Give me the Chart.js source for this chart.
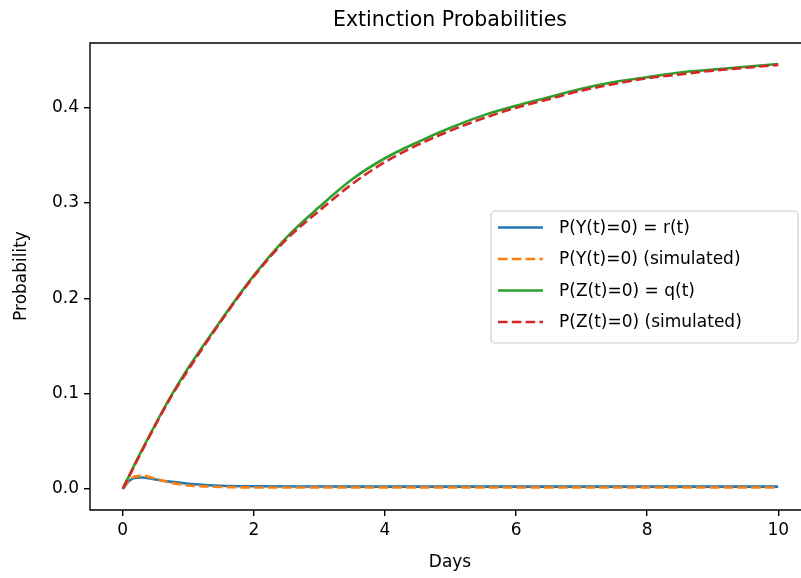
<!DOCTYPE html>
<html>
<head>
<meta charset="utf-8">
<script src="https://cdn.jsdelivr.net/npm/chart.js@4/dist/chart.umd.min.js"></script>
<style>
  html, body { margin: 0; padding: 0; background: #fff; overflow: hidden; }
  #wrap { width: 801px; height: 578px; overflow: hidden; position: relative; }
  #chart { position: absolute; left: 0; top: 0; }
</style>
</head>
<body>
<div id="wrap"><canvas id="chart" width="812" height="578"></canvas></div>
<script>
// ------------------------
// DATA
// ------------------------
const tTheory = [0, 0.25, 0.5, 0.75, 1, 1.5, 2, 2.5, 3, 3.5, 4, 4.5, 5, 5.5, 6, 6.5, 7, 7.5, 8, 8.5, 9, 9.5, 10];
const qTheory = [0, 0.035, 0.068, 0.099, 0.127, 0.177, 0.224, 0.264, 0.296, 0.325, 0.347, 0.364, 0.379, 0.392, 0.402, 0.411, 0.420, 0.427, 0.432, 0.437, 0.440, 0.443, 0.446];

const tQSim = [0, 0.25, 0.5, 0.75, 1, 1.5, 2, 2.5, 3, 3.5, 4, 4.5, 5, 5.5, 6, 6.5, 7, 7.5, 8, 8.5, 9, 9.5, 10];
const qSim = [0, 0.034, 0.067, 0.098, 0.125, 0.176, 0.223, 0.262, 0.292, 0.320, 0.343, 0.361, 0.376, 0.389, 0.400, 0.409, 0.418, 0.425, 0.431, 0.435, 0.439, 0.442, 0.445];

const tR = [0, 0.1, 0.2, 0.3, 0.4, 0.5, 0.75, 1, 1.25, 1.5, 2, 3, 4, 5, 6, 7, 8, 9, 10];
const rTheory = [0, 0.0085, 0.0115, 0.0118, 0.011, 0.0098, 0.0072, 0.0052, 0.004, 0.0032, 0.0026, 0.0023, 0.0022, 0.0022, 0.0022, 0.0022, 0.0022, 0.0022, 0.0022];
const rSim = [0, 0.009, 0.013, 0.0135, 0.0125, 0.0105, 0.0062, 0.0035, 0.0025, 0.0018, 0.0014, 0.0013, 0.0013, 0.0013, 0.0013, 0.0013, 0.0013, 0.0013, 0.0013];

const xTicks = [0, 2, 4, 6, 8, 10];
const yTicks = [0, 0.1, 0.2, 0.3, 0.4];

const labels = ["P(Y(t)=0) = r(t)", "P(Y(t)=0) (simulated)", "P(Z(t)=0) = q(t)", "P(Z(t)=0) (simulated)"];
const colors = ["#1f77b4", "#ff7f0e", "#2ca02c", "#d62728"];
const dashed = [false, true, false, true];

const FONT = "'DejaVu Sans', sans-serif";
const LW = 2.6;
const DASH = [9.6, 4.2];

function pts(xs, ys) {
  return xs.map((x, i) => ({ x: x, y: ys[i] }));
}

function series(i, data, order) {
  return {
    label: labels[i],
    data: data,
    borderColor: colors[i],
    backgroundColor: colors[i],
    borderWidth: LW,
    borderDash: dashed[i] ? DASH : [],
    pointRadius: 0,
    cubicInterpolationMode: "monotone",
    fill: false,
    order: order
  };
}

// ------------------------
// PLUGINS: frame, title, axis labels, legend
// ------------------------
const decor = {
  id: "decor",
  afterDraw(chart) {
    const { ctx, chartArea: a } = chart;
    ctx.save();
    // spines (right one sits past the visible window)
    ctx.strokeStyle = "#000";
    ctx.lineWidth = 1.4;
    ctx.beginPath();
    ctx.moveTo(a.right, a.top);
    ctx.lineTo(a.left, a.top);
    ctx.lineTo(a.left, a.bottom);
    ctx.lineTo(a.right, a.bottom);
    ctx.stroke();

    ctx.fillStyle = "#000";
    ctx.textAlign = "center";
    ctx.textBaseline = "middle";
    ctx.font = `20.5px ${FONT}`;
    ctx.fillText("Extinction Probabilities", 450, 21);

    ctx.font = `17px ${FONT}`;
    ctx.fillText("Days", 450, 563);

    ctx.save();
    ctx.translate(22, 276);
    ctx.rotate(-Math.PI / 2);
    ctx.fillText("Probability", 0, 0);
    ctx.restore();

    // legend
    const bx = 491, by = 211, bw = 307, bh = 132, r = 4;
    ctx.beginPath();
    ctx.moveTo(bx + r, by);
    ctx.arcTo(bx + bw, by, bx + bw, by + bh, r);
    ctx.arcTo(bx + bw, by + bh, bx, by + bh, r);
    ctx.arcTo(bx, by + bh, bx, by, r);
    ctx.arcTo(bx, by, bx + bw, by, r);
    ctx.closePath();
    ctx.fillStyle = "rgba(255,255,255,0.8)";
    ctx.fill();
    ctx.strokeStyle = "#cccccc";
    ctx.lineWidth = 1.2;
    ctx.stroke();

    const rows = [227.5, 259, 290.5, 322];
    ctx.textAlign = "left";
    labels.forEach((lab, i) => {
      ctx.beginPath();
      ctx.strokeStyle = colors[i];
      ctx.lineWidth = LW;
      ctx.setLineDash(dashed[i] ? DASH : []);
      ctx.moveTo(498, rows[i]);
      ctx.lineTo(543, rows[i]);
      ctx.stroke();
      ctx.setLineDash([]);
      ctx.fillStyle = "#000";
      ctx.fillText(lab, 559, rows[i] + 1);
    });
    ctx.restore();
  }
};

// ------------------------
// CHART
// ------------------------
new Chart(document.getElementById("chart"), {
  type: "line",
  data: {
    datasets: [
      series(0, pts(tR, rTheory), 4),
      series(1, pts(tR, rSim), 3),
      series(2, pts(tTheory, qTheory), 2),
      series(3, pts(tQSim, qSim), 1)
    ]
  },
  options: {
    responsive: false,
    animation: false,
    devicePixelRatio: 1,
    layout: { padding: { top: 43, left: 0, right: 1, bottom: 0 } },
    plugins: {
      legend: { display: false },
      title: { display: false },
      tooltip: { enabled: false }
    },
    scales: {
      x: {
        type: "linear",
        min: -0.5,
        max: 10.5,
        afterBuildTicks: (s) => { s.ticks = xTicks.map(v => ({ value: v })); },
        afterFit: (s) => { s.height = 68; s.paddingLeft = 0; s.paddingRight = 0; },
        border: { display: false },
        grid: { drawOnChartArea: false, drawTicks: true, tickLength: 6, color: "#000", lineWidth: 1.4 },
        ticks: { color: "#000", font: { family: FONT, size: 17 }, padding: 4, maxRotation: 0, callback: (v) => String(v) }
      },
      y: {
        type: "linear",
        min: -0.0223,
        max: 0.468,
        afterBuildTicks: (s) => { s.ticks = yTicks.map(v => ({ value: v })); },
        afterFit: (s) => { s.width = 90; },
        border: { display: false },
        grid: { drawOnChartArea: false, drawTicks: true, tickLength: 6, color: "#000", lineWidth: 1.4 },
        ticks: { color: "#000", font: { family: FONT, size: 17 }, padding: 5, callback: (v) => v.toFixed(1) }
      }
    }
  },
  plugins: [decor]
});
</script>
</body>
</html>
